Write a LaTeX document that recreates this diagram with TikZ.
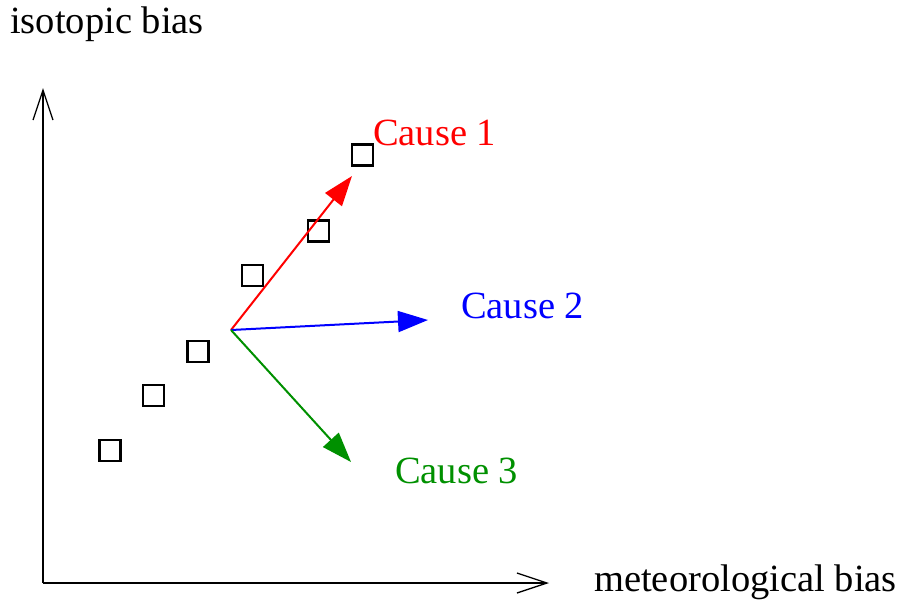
\documentclass[tikz,border=0pt]{standalone}
\usepackage{fontspec}
\setmainfont{Liberation Serif}
\usetikzlibrary{arrows.meta}
\definecolor{xred}{RGB}{255,0,0}
\definecolor{xblue}{RGB}{0,0,255}
\definecolor{xgreen}{RGB}{0,144,0}
\tikzset{
  lbl/.style={inner sep=0pt, anchor=base west, font=\fontsize{38.5}{46}\selectfont},
  sq/.style={draw=black, line width=2.6pt, minimum size=21pt, inner sep=0pt},
  axis/.style={line width=1.3pt, -{Straight Barb[length=30pt,width=20pt,line width=1.3pt]}},
  cause/.style={line width=2pt, -{Triangle[length=30pt,width=21pt]}}
}
\begin{document}
\begin{tikzpicture}[x=1pt,y=-1pt]
\useasboundingbox (0,0) rectangle (901,603);
\coordinate (O) at (43,583);
\coordinate (ytip) at (43,88);
\coordinate (xtip) at (549,583);
\coordinate (src) at (231,330);
\node[lbl] (ylab) at (10,33) {isotopic bias};
\node[lbl] (xlab) at (594,591) {meteorological bias};
\draw[axis] (O) -- (ytip);
\draw[axis] (O) -- (xtip);
\node[sq] (s1) at (110,450.5) {};
\node[sq] (s2) at (153.5,395.5) {};
\node[sq] (s3) at (198,351.5) {};
\node[sq] (s4) at (252.5,275.5) {};
\node[sq] (s5) at (318.5,231) {};
\node[sq] (s6) at (362.5,155) {};
\coordinate (t1) at (352,176);
\coordinate (t2) at (428,320);
\coordinate (t3) at (351,462);
\draw[cause, xred, fill=xred] (src) -- (t1);
\draw[cause, xblue, fill=xblue] (src) -- (t2);
\draw[cause, xgreen, fill=xgreen] (src) -- (t3);
\node[lbl, text=xred] (c1) at (373,145) {Cause 1};
\node[lbl, text=xblue] (c2) at (461,318) {Cause 2};
\node[lbl, text=xgreen] (c3) at (395,483) {Cause 3};
\end{tikzpicture}
\end{document}
